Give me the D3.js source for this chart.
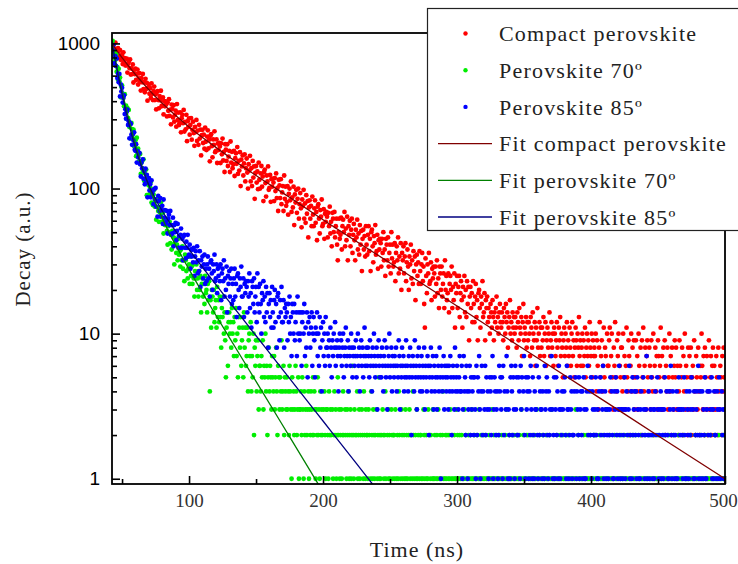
<!DOCTYPE html>
<html>
<head>
<meta charset="utf-8">
<script src="https://cdn.jsdelivr.net/npm/d3@7"></script>
<style>
  body { margin: 0; background: #fff; }
  .serif { font-family: "Liberation Serif", "Times New Roman", serif; }
  .sans { font-family: "Liberation Sans", Arial, sans-serif; }
</style>
</head>
<body>
<script>
// time channels: 43 ns .. 500 ns, every 0.5 ns
const tStart = 43, tStep = 0.5;

// measured decays (counts), one value per channel, 20 per line = 10 ns
const compact = [
  1006,896,1001,920,1013,866,902,794,928,884,816,898,772,809,832,721,869,747,791,705,
  706,784,630,723,746,676,776,610,672,615,716,538,657,614,670,560,615,660,521,574,
  623,545,473,577,540,616,485,541,460,570,486,534,403,495,523,450,492,421,530,450,
  407,469,504,407,446,351,462,469,407,357,434,406,472,369,373,424,324,400,369,399,
  381,314,393,343,413,317,349,277,379,353,309,375,289,322,344,267,382,296,334,274,
  284,335,244,305,322,282,348,247,288,256,322,212,291,266,304,235,274,306,217,254,
  289,241,197,266,245,297,213,251,200,275,221,255,169,233,254,206,235,188,263,210,
  184,228,252,189,217,154,231,237,196,164,218,200,248,178,182,218,150,204,184,206,
  195,150,205,172,221,156,179,130,202,185,155,202,143,166,182,130,211,151,179,138,
  147,182,122,162,175,148,193,126,155,133,178,104,158,142,169,123,149,172,112,138,
  161,129,100,147,133,168,112,138,104,155,119,142,85,128,143,110,131,99,151,115,
  100,127,143,103,121,82,130,135,109,88,123,112,142,98,101,124,81,116,103,117,
  110,82,118,96,127,86,101,70,115,105,86,116,78,94,104,70,123,85,103,76,
  81,104,66,92,100,83,112,69,87,74,103,56,91,80,98,68,85,100,62,78,
  93,73,54,84,76,98,62,79,58,90,67,82,46,74,83,62,76,55,88,66,
  55,73,83,58,69,44,75,78,62,49,71,64,84,55,57,72,45,67,59,69,
  64,46,68,55,75,49,59,40,68,62,50,69,46,55,62,41,32,50,62,45,
  48,63,38,55,61,50,69,40,53,44,64,32,55,48,60,40,52,62,36,48,
  57,44,32,52,46,61,38,49,35,56,41,51,27,45,52,38,47,34,55,41,
  35,48,55,37,45,27,50,52,40,31,47,42,56,35,37,48,28,44,38,45,
  42,29,45,36,50,32,38,25,45,41,32,46,29,36,41,26,50,33,41,29,
  31,42,23,36,40,32,46,26,34,28,42,20,36,32,40,26,34,42,23,31,
  38,29,20,34,30,41,24,32,22,37,27,34,17,30,35,25,31,22,37,27,
  22,30,36,23,29,16,11,33,25,19,30,26,36,22,23,31,17,28,24,29,
  26,18,29,22,32,19,24,15,29,26,20,29,18,22,26,15,32,20,25,17,
  19,26,14,22,25,20,29,15,21,17,26,11,22,19,25,15,21,25,13,19,
  23,17,11,21,18,25,14,20,13,23,16,21,9,18,21,15,19,12,23,16,
  12,18,22,13,17,9,19,20,15,11,18,16,23,13,14,19,9,17,15,18,
  12,15,13,10,16,14,11,17,13,9,14,12,15,18,11,13,10,14,16,12,
  11,14,12,9,15,13,10,16,12,14,8,11,13,17,10,12,9,14,11,13,
  10,13,11,8,14,12,9,15,11,10,13,7,12,16,9,11,10,13,8,12,
  9,12,10,7,13,11,8,14,10,9,12,6,11,9,15,8,10,12,7,11,
  8,11,9,13,7,10,12,6,9,11,8,10,14,7,9,12,8,10,6,11,
  10,7,9,12,8,6,11,9,13,7,10,8,5,9,11,7,10,8,12,6,
  9,7,11,8,6,10,12,7,9,5,8,11,9,6,10,8,13,7,9,6,
  8,10,6,9,7,11,5,8,10,7,9,6,12,8,7,10,5,9,7,8,
  7,10,4,9,6,3,8,12,5,7,9,4,6,11,5,8,7,3,10,6,
  6,9,11,4,7,10,5,3,8,6,12,5,4,9,7,10,3,6,5,8,
  8,4,10,5,7,3,6,11,5,4,9,7,2,6,10,4,8,5,9,3,
  5,9,4,7,3,10,6,4,8,2,9,5,11,4,6,8,3,7,9,5,
  4,8,6,3,9,5,4,10,2,6,8,4,7,3,9,7,5,6,11,3,
  7,3,8,5,9,2,6,4,8,3,5,10,4,7,2,8,5,3,6,9,
  5,8,3,6,2,4,9,6,3,5,8,2,7,4,10,3,6,5,2,8,
  3,7,5,8,2,5,6,3,9,4,2,7,5,3,8,4,2,6,5,10,
  6,3,7,2,8,5,3,7,2,4,9,3,5,7,2,6,8,3,6,4,
  3,7,5,2,8,4,3,6,5,2,7,4,8,5,5
];

const pero70 = [
  1041,875,731,855,770,843,639,685,561,668,549,582,425,503,513,425,448,369,447,367,
  372,302,358,305,348,265,280,221,283,257,221,255,196,209,215,167,224,173,188,153,
  153,173,126,151,155,134,159,113,127,112,135,90,117,106,118,91,102,111,80,91,
  77,91,98,75,82,61,84,84,70,59,74,68,80,59,59,68,49,62,56,60,
  62,51,41,55,50,59,42,49,38,51,41,46,30,42,45,36,41,32,45,35,
  37,29,38,32,40,28,32,23,35,32,27,34,24,28,30,22,34,25,29,22,
  30,24,18,27,24,30,20,24,18,27,20,25,14,22,24,18,22,16,25,19,
  20,14,22,17,23,4,17,11,20,18,14,20,12,15,17,11,21,13,17,12,
  18,13,8,15,13,18,10,14,9,5,11,14,6,12,14,10,12,8,15,10,
  12,7,13,9,15,7,10,5,13,11,8,13,6,9,11,5,14,8,11,6,
  7,11,4,9,10,7,12,4,7,5,10,2,8,6,9,4,7,9,3,6,
  6,4,7,5,9,3,6,5,10,4,6,2,5,8,4,6,5,3,7,5,
  4,7,3,5,8,4,2,6,5,3,5,4,9,3,4,6,2,5,4,3,
  5,3,4,2,6,4,3,1,5,3,4,2,3,6,4,2,3,5,1,3,
  3,4,2,5,3,1,4,2,3,6,2,3,4,1,3,2,4,3,2,5,
  2,4,3,1,3,2,5,2,3,1,4,2,3,2,0,3,4,2,1,3,
  3,2,1,4,2,3,2,0,3,1,2,4,2,3,1,2,5,2,3,1,
  2,3,1,2,4,2,0,3,2,1,3,2,4,1,2,3,1,2,6,2,
  1,3,2,0,2,4,1,2,3,1,2,0,3,2,1,4,2,1,3,2,
  2,1,3,2,0,1,4,2,1,3,2,1,2,0,3,1,2,5,1,2,
  1,2,0,3,2,1,2,4,1,0,2,3,1,2,1,0,3,2,1,2,
  2,1,3,0,1,2,1,4,2,0,1,3,2,1,0,2,1,3,1,2,
  1,0,2,3,1,2,0,1,4,2,1,0,2,1,3,1,2,0,1,2,
  2,1,0,1,3,2,1,0,2,1,1,3,0,2,1,2,0,1,3,1,
  1,2,0,1,2,1,3,0,1,2,1,0,2,4,1,0,1,2,1,2,
  0,1,2,1,3,0,1,2,1,0,2,1,1,3,0,2,1,0,2,1,
  1,2,0,1,1,3,0,2,1,0,1,2,1,0,2,1,3,1,0,1,
  2,0,1,1,2,0,1,3,1,0,2,1,0,1,2,1,0,2,1,1,
  0,1,2,1,0,1,3,1,0,2,1,1,0,2,1,0,1,2,1,0,
  1,2,1,0,1,0,2,1,3,1,0,1,2,0,1,1,2,0,1,2,
  1,0,1,2,0,1,1,2,0,1,3,0,1,2,1,0,1,1,2,0,
  2,1,0,1,1,0,2,1,0,1,2,1,0,3,1,0,1,2,0,1,
  0,1,2,0,1,1,0,2,1,1,0,1,2,0,1,3,1,0,1,1,
  1,0,1,2,1,0,1,1,2,0,1,0,2,1,1,0,1,2,0,1,
  2,1,0,1,0,1,2,1,0,1,1,3,0,1,0,2,1,1,0,1,
  1,1,0,2,1,0,1,0,2,1,1,0,1,2,0,1,1,0,2,1,
  0,2,1,1,0,1,0,2,1,0,1,1,2,0,1,0,1,3,1,0,
  1,0,2,1,0,1,1,0,1,2,0,1,1,0,2,1,0,1,1,2,
  0,1,1,0,2,1,0,1,1,0,2,0,1,1,0,1,2,1,0,1,
  1,2,0,1,0,1,1,0,2,1,0,1,0,1,2,1,0,1,1,0,
  2,0,1,1,0,1,0,2,1,1,0,1,1,0,2,0,1,1,0,1,
  1,0,1,2,1,0,1,0,1,1,2,0,1,0,1,1,0,2,1,0,
  0,1,1,0,1,2,0,1,0,1,1,0,2,1,0,1,1,0,1,1,
  1,0,2,1,0,1,1,0,1,0,2,1,1,0,1,0,1,2,0,1,
  0,1,1,0,2,1,0,1,1,0,1,0,2,1,1,0,1,0,1,2,
  1,0,1,1,0,2,1,0,1,1,0,1,2,1,1
];

const pero85 = [
  901,973,728,819,815,700,786,578,619,541,616,431,521,466,495,391,421,439,326,352,
  303,338,350,274,291,222,282,279,235,200,236,215,244,185,182,202,151,182,164,174,
  176,147,121,151,138,159,117,132,107,137,112,124,87,110,118,97,107,87,114,93,
  97,78,99,84,101,75,82,64,89,82,70,86,64,71,76,57,84,63,71,57,
  59,70,49,62,66,56,70,48,56,49,63,40,56,50,58,44,51,57,39,47,
  39,48,53,39,45,32,47,48,39,33,43,39,48,34,35,41,28,38,34,38,
  31,39,25,34,37,31,40,26,32,27,37,21,32,29,34,24,30,35,22,28,
  23,30,34,24,28,18,31,32,26,20,30,27,35,23,24,30,19,28,25,29,
  23,30,17,26,28,23,32,18,24,20,29,14,25,22,27,18,24,28,16,22,
  17,24,28,18,22,13,25,26,20,15,24,21,29,18,18,24,13,22,19,23,
  21,14,23,18,26,15,19,11,23,21,16,24,14,18,21,12,26,16,21,14,
  22,16,10,19,17,23,13,18,12,21,14,19,8,16,19,13,17,11,21,14,
  11,17,20,12,16,8,18,19,13,9,17,14,21,12,12,17,8,15,13,16,
  14,9,16,12,18,10,13,7,16,14,10,16,9,12,14,7,18,10,14,9,
  10,14,6,12,14,10,16,7,11,8,14,5,12,10,13,8,11,14,6,10,
  13,9,5,11,10,14,7,10,6,13,8,11,4,9,12,7,10,6,13,8,
  8,10,7,9,6,11,8,5,9,7,10,8,12,6,8,9,7,4,8,10,
  7,9,6,8,10,5,7,8,11,6,7,9,4,8,7,6,10,8,5,7,
  8,6,7,9,5,7,10,6,8,4,7,9,6,8,5,7,11,6,7,8,
  6,8,7,5,9,6,7,4,8,6,10,7,5,6,8,3,7,9,6,5,
  7,5,8,6,4,7,9,6,5,8,3,6,7,10,5,6,8,4,7,6,
  5,7,6,8,4,6,5,9,7,3,6,5,8,6,7,4,5,6,9,5,
  6,4,7,5,8,6,2,5,7,6,4,9,5,6,3,7,5,8,6,4,
  5,7,4,6,5,8,3,6,5,4,7,6,2,5,6,8,4,5,7,3,
  6,4,5,7,3,5,6,4,8,5,1,6,4,5,7,3,6,5,4,6,
  5,3,6,4,7,5,2,4,6,5,3,8,4,5,6,4,3,5,7,4,
  4,6,1,3,7,4,5,2,6,4,1,3,4,6,2,5,3,4,5,2,
  5,3,1,6,2,5,4,7,3,1,4,6,2,4,0,3,6,2,5,3,
  4,1,3,5,4,2,5,7,1,3,5,4,2,3,4,1,2,6,4,5,
  3,5,1,6,2,4,0,3,7,4,1,3,2,1,5,6,4,2,5,3,
  1,6,3,5,2,2,5,4,1,6,3,5,0,4,7,2,1,5,3,4,
  5,1,4,2,6,3,1,5,2,1,4,3,3,6,2,1,5,2,4,3,
  3,1,4,2,1,6,3,4,5,2,1,4,2,3,0,7,3,1,2,5,
  1,3,5,2,4,1,6,3,1,3,2,4,3,0,4,5,2,1,6,3,
  3,1,2,5,3,4,1,2,2,4,0,5,1,4,3,2,5,1,3,4,
  2,4,1,5,3,1,1,3,4,6,2,0,4,2,5,1,4,3,2,2,
  3,5,2,1,3,1,4,0,5,2,4,3,6,1,2,4,3,1,2,3,
  1,2,3,5,0,4,2,1,1,4,3,5,2,4,1,3,6,2,1,3,
  3,1,2,3,5,1,3,4,2,0,3,6,1,2,4,1,5,2,3,4,
  2,4,1,5,3,2,1,1,3,4,0,2,5,3,1,2,3,7,1,2,
  4,1,2,3,5,2,1,3,1,3,4,2,0,5,3,1,2,3,4,1,
  3,2,1,3,5,2,0,4,2,1,1,4,3,6,2,1,4,3,2,1,
  2,1,4,1,3,5,3,2,0,3,2,1,3,5,2,1,1,4,3,2,
  1,4,2,3,5,0,3,1,4,1,2,3,4,2,6,1,2,4,1,2,
  4,1,3,2,5,1,1,3,4,2,0,4,2,3,5,1,3,1,4,2,
  2,1,4,3,1,5,3,1,0,4,2,3,1,2,3
];

// fitted curves
const fitCompactT = [42.5,45,47.5,50,55,60,65,70,80,90,100,115,130,150,175,200,250,300,350,400,450,500];
const fitCompactV = [997,924,858,798,696,611,540,480,387,319,266,208,165,123,87,61,30.7,15.5,7.8,3.94,1.98,1.0];
const fit70T = [42.5,44,46,48,50,52,54,56,58,60,62,64,66,68,70,74,78,85,90,100,115,130,150,175,200];
const fit70V = [999,854,695,570,471,391,328,277,235,201,174,151,132.5,117,104,83.6,68.6,49.8,40.8,27.7,16.0,9.43,4.69,1.95,0.81];
const fit85T = [42.5,44,46,48,50,52,54,56,58,60,62,65,70,75,80,90,100,115,130,150,175,200,225,240];
const fit85V = [998,842,676,547,447,369,307,259,221,190,166,138,105.5,84.6,70,50.8,38,25,16.6,9.67,4.92,2.5,1.27,0.845];

const yMajor = [1, 10, 100, 1000];
const xMajor = [100, 200, 300, 400, 500];
const xMinor = [50, 150, 250, 350, 450];

const legendItems = [
  { label: "Compact perovskite", kind: "dot", color: "#ff0000" },
  { label: "Perovskite 70º", kind: "dot", color: "#00ee00" },
  { label: "Perovskite 85º", kind: "dot", color: "#0000ff" },
  { label: "Fit compact perovskite", kind: "line", color: "#800000" },
  { label: "Fit perovskite 70º", kind: "line", color: "#008000" },
  { label: "Fit perovskite 85º", kind: "line", color: "#000080" }
];

const width = 738;
const height = 564;
const plotLeft = 112, plotRight = 725, plotTop = 33, plotBottom = 484;

const x = d3.scaleLinear().domain([42.5, 500]).range([plotLeft, plotRight]);
const y = d3.scaleLog().domain([0.92, 1180]).range([plotBottom, plotTop]);

const svg = d3.select("body").append("svg")
  .attr("width", width)
  .attr("height", height);

svg.append("defs").append("clipPath").attr("id", "plotClip")
  .append("rect")
  .attr("x", plotLeft).attr("y", plotTop)
  .attr("width", plotRight - plotLeft).attr("height", plotBottom - plotTop);

const plot = svg.append("g").attr("clip-path", "url(#plotClip)");

function toPoints(values) {
  return values
    .map((v, i) => ({ t: tStart + i * tStep, v: v }))
    .filter((d) => d.v > 0);
}

const series = [
  { data: compact, color: "#ff0000" },
  { data: pero70, color: "#00ee00" },
  { data: pero85, color: "#0000ff" }
];

series.forEach((s) => {
  plot.append("g")
    .selectAll("circle")
    .data(toPoints(s.data))
    .join("circle")
    .attr("cx", (d) => x(d.t))
    .attr("cy", (d) => y(d.v))
    .attr("r", 2.4)
    .attr("fill", s.color);
});

const fitLine = d3.line()
  .x((d) => x(d[0]))
  .y((d) => y(d[1]))
  .curve(d3.curveMonotoneX);

const fits = [
  { t: fitCompactT, v: fitCompactV, color: "#800000" },
  { t: fit70T, v: fit70V, color: "#008000" },
  { t: fit85T, v: fit85V, color: "#000080" }
];

fits.forEach((f) => {
  plot.append("path")
    .datum(f.t.map((t, i) => [t, f.v[i]]))
    .attr("fill", "none")
    .attr("stroke", f.color)
    .attr("stroke-width", 1.3)
    .attr("d", fitLine);
});

// y axis: major ticks with labels, minor ticks without
const yMinor = [];
[1, 10, 100].forEach((dec) => {
  for (let k = 2; k <= 9; k++) yMinor.push(dec * k);
});

const yAxisG = svg.append("g")
  .attr("transform", `translate(${plotLeft},0)`)
  .call(d3.axisLeft(y).tickValues(yMajor).tickFormat(d3.format("d"))
    .tickSize(-8).tickPadding(12));
yAxisG.select(".domain").remove();
yAxisG.selectAll("text")
  .attr("class", "sans")
  .style("font-size", "19px")
  .attr("fill", "#000");

const yMinorG = svg.append("g")
  .attr("transform", `translate(${plotLeft},0)`)
  .call(d3.axisLeft(y).tickValues(yMinor).tickFormat("").tickSize(-5));
yMinorG.select(".domain").remove();

const xAxisG = svg.append("g")
  .attr("transform", `translate(0,${plotBottom})`)
  .call(d3.axisBottom(x).tickValues(xMajor).tickFormat(d3.format("d"))
    .tickSize(-8).tickPadding(10));
xAxisG.select(".domain").remove();
xAxisG.selectAll("text")
  .attr("class", "serif")
  .style("font-size", "19px")
  .attr("fill", "#333")
  .attr("dx", (d) => (d === 500 ? -2 : 0));

const xMinorG = svg.append("g")
  .attr("transform", `translate(0,${plotBottom})`)
  .call(d3.axisBottom(x).tickValues(xMinor).tickFormat("").tickSize(-5));
xMinorG.select(".domain").remove();

svg.selectAll(".tick line")
  .attr("stroke", "#000")
  .attr("stroke-width", 1.6);

// frame
svg.append("rect")
  .attr("x", plotLeft).attr("y", plotTop)
  .attr("width", plotRight - plotLeft).attr("height", plotBottom - plotTop)
  .attr("fill", "none")
  .attr("stroke", "#000")
  .attr("stroke-width", 1.8);

// axis titles
svg.append("text")
  .attr("class", "serif")
  .attr("x", 417).attr("y", 557)
  .attr("text-anchor", "middle")
  .style("font-size", "22px")
  .style("letter-spacing", "1px")
  .attr("fill", "#222")
  .text("Time (ns)");

svg.append("text")
  .attr("class", "serif")
  .attr("transform", "translate(30,249) rotate(-90)")
  .attr("text-anchor", "middle")
  .style("font-size", "21px")
  .style("letter-spacing", "1px")
  .attr("fill", "#222")
  .text("Decay (a.u.)");

// legend
const legend = svg.append("g");
legend.append("rect")
  .attr("x", 427.5).attr("y", 8.5)
  .attr("width", 330).attr("height", 222)
  .attr("fill", "#fff")
  .attr("stroke", "#222")
  .attr("stroke-width", 1.2);

const rows = legend.selectAll("g.row")
  .data(legendItems)
  .join("g")
  .attr("class", "row")
  .attr("transform", (d, i) => `translate(0,${33.5 + i * 36.7})`);

rows.filter((d) => d.kind === "dot")
  .append("circle")
  .attr("cx", 465.5).attr("cy", 0).attr("r", 2.2)
  .attr("fill", (d) => d.color);

rows.filter((d) => d.kind === "line")
  .append("line")
  .attr("x1", 438).attr("x2", 492)
  .attr("y1", 0).attr("y2", 0)
  .attr("stroke", (d) => d.color)
  .attr("stroke-width", 1.3);

rows.append("text")
  .attr("class", "serif")
  .attr("x", 499).attr("y", 0)
  .attr("dy", "0.35em")
  .style("font-size", "22px")
  .style("letter-spacing", "1.2px")
  .attr("fill", "#222")
  .text((d) => d.label);
</script>
</body>
</html>
